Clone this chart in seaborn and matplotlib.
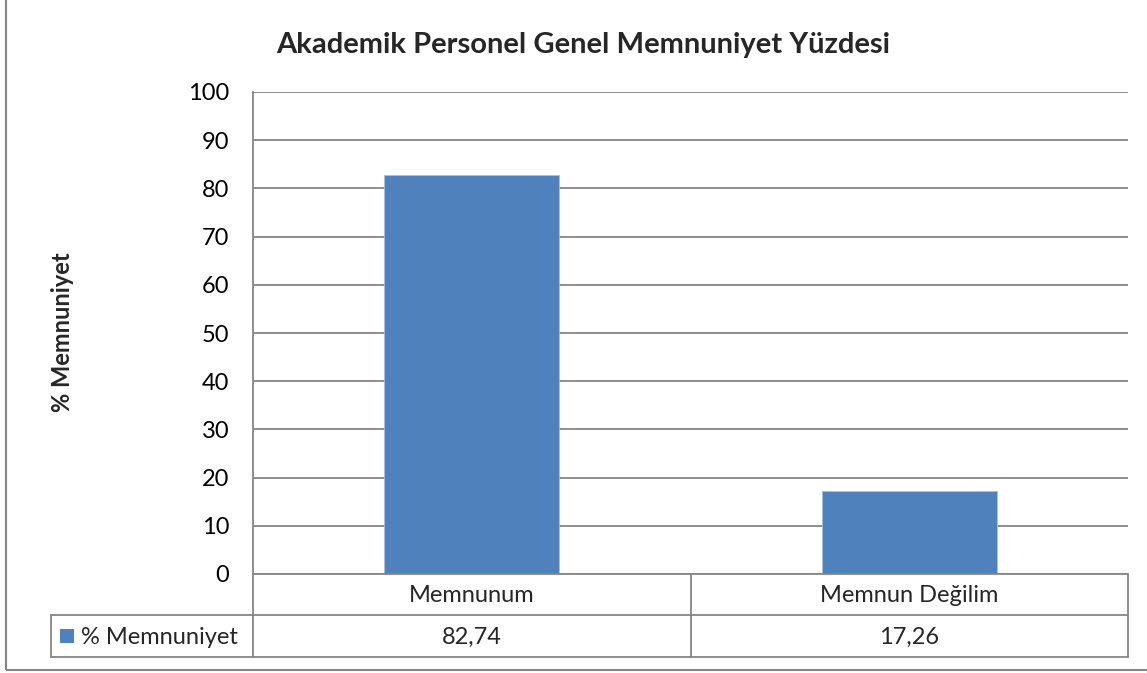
import matplotlib
matplotlib.use("Agg")
from matplotlib import pyplot as plt
from matplotlib.lines import Line2D
from matplotlib.patches import Rectangle
from matplotlib.transforms import blended_transform_factory
import pandas as pd
import seaborn as sns

# chart data
categories = ["Memnunum", "Memnun Değilim"]
values = [82.74, 17.26]
series_name = "% Memnuniyet"
title = "Akademik Personel Genel Memnuniyet Yüzdesi"
yticks = list(range(0, 101, 10))

W, H = 1147, 673
bar_color = "#4F81BD"
line_gray = "#868686"

sns.set_theme(style="white")
plt.rcParams['font.family'] = ['Lato', 'DejaVu Sans']

def fx(px):
    return px / W

def fy(py):
    return 1 - py / H

fig = plt.figure(figsize=(W / 100, H / 100), dpi=100)
ax = fig.add_axes([fx(253), fy(574), fx(1128) - fx(253), fy(92) - fy(574)])

df = pd.DataFrame({"cat": categories, "val": values})
sns.barplot(data=df, x="cat", y="val", color=bar_color, width=0.4,
            saturation=1, edgecolor="#a9c1e0", linewidth=0.6, ax=ax)

ax.set_ylim(0, 100)
ax.set_xlim(-0.5, len(categories) - 0.5)
ax.set_yticks(yticks)
ax.set_yticklabels([str(t) for t in yticks], fontsize=17, color="black")
ax.tick_params(axis="y", length=0, pad=17)
ax.set_xticks([])
ax.set_xlabel("")
ax.set_ylabel("")
ax.yaxis.grid(True, color=line_gray, linewidth=1.3)
ax.set_axisbelow(True)
for side in ["top", "right", "bottom"]:
    ax.spines[side].set_visible(False)
ax.spines["left"].set_color(line_gray)
ax.spines["left"].set_linewidth(1.3)

fig.text(fx(583), fy(45), title, ha="center", va="center",
         fontsize=21, fontweight="bold")
fig.text(fx(62), fy(332), series_name, ha="center", va="center",
         rotation=90, fontsize=17, fontweight="bold")

# data table under the plot
def hline(x0, x1, y):
    fig.add_artist(Line2D([fx(x0), fx(x1)], [fy(y), fy(y)], color=line_gray, lw=1.3))

def vline(x, y0, y1):
    fig.add_artist(Line2D([fx(x), fx(x)], [fy(y0), fy(y1)], color=line_gray, lw=1.3))

hline(253, 1128, 574)
hline(51, 1128, 615)
hline(51, 1128, 657)
vline(253, 574, 657)
vline(690.5, 574, 657)
vline(1128, 574, 657)
vline(51, 615, 657)

trans = blended_transform_factory(ax.transData, fig.transFigure)
for i, (c, v) in enumerate(zip(categories, values)):
    fig.text(i, fy(596), c, transform=trans, ha="center", va="center", fontsize=17)
    fig.text(i, fy(637), f"{v:.2f}".replace(".", ","), transform=trans,
             ha="center", va="center", fontsize=17)

fig.add_artist(Rectangle((fx(60), fy(643)), fx(14), fy(629) - fy(643),
                         facecolor=bar_color, edgecolor="none"))
fig.text(fx(81), fy(637), series_name, ha="left", va="center", fontsize=17)

# outer chart border
fig.add_artist(Rectangle((fx(6), fy(670)), fx(1160), fy(-10) - fy(670),
                         facecolor="none", edgecolor=line_gray, lw=1.5))

fig.savefig("out.png", dpi=100)
